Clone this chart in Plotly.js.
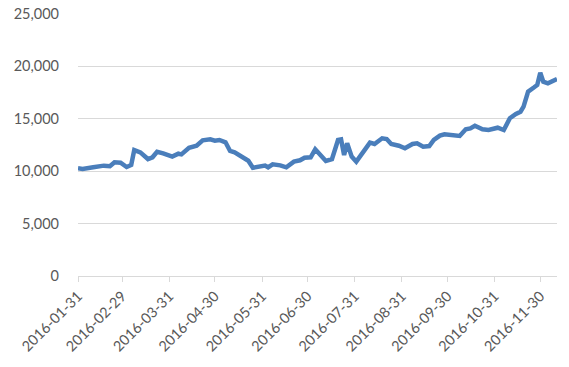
<!DOCTYPE html>
<html>
<head>
<meta charset="utf-8">
<script src="https://cdn.plot.ly/plotly-3.0.1.min.js"></script>
<style>html,body{margin:0;padding:0;background:#fff;}#chart{width:569px;height:367px;}</style>
</head>
<body>
<div id="chart"></div>
<script>
const dates = [
"2016-01-31","2016-02-03","2016-02-10","2016-02-17","2016-02-21","2016-02-24","2016-02-28",
"2016-03-03","2016-03-06","2016-03-08","2016-03-12","2016-03-17","2016-03-20","2016-03-23","2016-03-27","2016-03-31",
"2016-04-02","2016-04-06","2016-04-08","2016-04-13","2016-04-18","2016-04-22","2016-04-27","2016-04-30",
"2016-05-03","2016-05-07","2016-05-10","2016-05-13","2016-05-18","2016-05-22","2016-05-25","2016-05-29",
"2016-06-02","2016-06-04","2016-06-07","2016-06-12","2016-06-16","2016-06-21","2016-06-25","2016-06-28",
"2016-07-02","2016-07-05","2016-07-08","2016-07-12","2016-07-16","2016-07-20","2016-07-22","2016-07-24","2016-07-26","2016-07-29",
"2016-08-01","2016-08-06","2016-08-10","2016-08-13","2016-08-18","2016-08-21","2016-08-24","2016-08-29",
"2016-09-02","2016-09-07","2016-09-10","2016-09-14","2016-09-18","2016-09-21","2016-09-25","2016-09-28",
"2016-10-03","2016-10-08","2016-10-12","2016-10-15","2016-10-18","2016-10-23","2016-10-27",
"2016-11-02","2016-11-06","2016-11-10","2016-11-14","2016-11-17","2016-11-19","2016-11-22","2016-11-26","2016-11-28","2016-11-30",
"2016-12-02","2016-12-05","2016-12-09","2016-12-11"
];
const values = [
10280,10210,10370,10530,10470,10850,10810,
10400,10590,12020,11800,11160,11330,11860,11710,11450,
11390,11670,11610,12240,12430,12950,13040,12910,
12980,12760,11930,11800,11290,11000,10330,10430,
10530,10370,10660,10560,10370,10910,11040,11290,
11330,12090,11610,10970,11140,12980,13040,11550,12660,11390,
10910,12020,12720,12600,13140,13070,12600,12430,
12190,12600,12660,12340,12400,12980,13390,13520,
13390,13360,14000,14090,14340,14000,13930,
14150,13930,15050,15460,15680,16160,17590,18010,18230,19400,
18540,18390,18640,18800
];
const tickDates = ["2016-01-31","2016-02-29","2016-03-31","2016-04-30","2016-05-31","2016-06-30","2016-07-31","2016-08-31","2016-09-30","2016-10-31","2016-11-30"];
const yTicks = [0,5000,10000,15000,20000,25000];

const fontFam = "Lato, 'Open Sans', sans-serif";
Plotly.newPlot('chart', [{
  x: dates, y: values, type: 'scatter', mode: 'lines',
  line: {color: '#4a7ebb', width: 4.5},
  hoverinfo: 'skip'
}], {
  width: 569, height: 367,
  margin: {l: 78, r: 12, t: 14, b: 91},
  paper_bgcolor: '#fff', plot_bgcolor: '#fff',
  showlegend: false,
  font: {family: fontFam, size: 14, color: '#595959'},
  xaxis: {
    type: 'date', range: ['2016-01-31', '2016-12-11'],
    tickvals: tickDates, ticktext: tickDates, tickangle: -45,
    showgrid: false, zeroline: false,
    showline: true, linecolor: '#d9d9d9', linewidth: 1,
    ticks: 'outside', ticklen: 5, tickcolor: '#d9d9d9',
    tickfont: {family: fontFam, size: 14.5, color: '#595959'}
  },
  yaxis: {
    range: [0, 25000], tickvals: yTicks, tickformat: ',d',
    showgrid: true, gridcolor: '#d9d9d9', gridwidth: 1,
    zeroline: false, showline: false, ticks: '',
    ticklabelstandoff: 18,
    tickfont: {family: fontFam, size: 14.5, color: '#595959'}
  }
}, {staticPlot: true});
</script>
</body>
</html>
